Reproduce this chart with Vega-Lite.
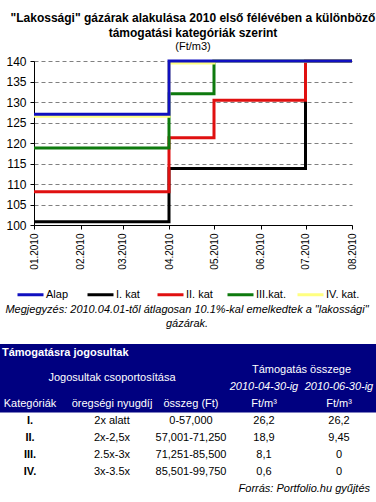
{
  "$schema": "https://vega.github.io/schema/vega-lite/v6.json",
  "padding": {"left": 0, "top": 12, "right": 0, "bottom": 0},
  "bounds": "flush",
  "spacing": 119,
  "config": {
    "font": "Liberation Sans",
    "view": {"stroke": null},
    "axis": {"labelFont": "Liberation Sans", "labelColor": "#000000", "domainColor": "#000000", "tickColor": "#000000"}
  },
  "resolve": {"scale": {"color": "independent"}, "legend": {"color": "independent"}},
  "vconcat": [
    {
      "width": 318,
      "height": 164,
      "title": {
        "text": ["\"Lakossági\" gázárak alakulása 2010 első félévében a különböző", "támogatási kategóriák szerint"],
        "subtitle": "(Ft/m3)",
        "font": "Liberation Sans",
        "fontSize": 12,
        "fontWeight": "bold",
        "lineHeight": 15,
        "subtitleFont": "Liberation Sans",
        "subtitleFontSize": 11,
        "subtitlePadding": 1,
        "offset": 2,
        "anchor": "middle",
        "color": "#000000",
        "subtitleColor": "#000000"
      },
      "data": {
        "values": [
          {"series": "I. kat", "date": "2010-01-01T00:00:00", "value": 100.8},
          {"series": "I. kat", "date": "2010-04-01T00:00:00", "value": 113.8},
          {"series": "I. kat", "date": "2010-07-01T00:00:00", "value": 140},
          {"series": "I. kat", "date": "2010-08-01T00:00:00", "value": 140},
          {"series": "II. kat", "date": "2010-01-01T00:00:00", "value": 108.1},
          {"series": "II. kat", "date": "2010-04-01T00:00:00", "value": 121.3},
          {"series": "II. kat", "date": "2010-05-01T00:00:00", "value": 130.4},
          {"series": "II. kat", "date": "2010-07-01T00:00:00", "value": 140},
          {"series": "II. kat", "date": "2010-08-01T00:00:00", "value": 140},
          {"series": "III.kat.", "date": "2010-01-01T00:00:00", "value": 118.8},
          {"series": "III.kat.", "date": "2010-04-01T00:00:00", "value": 132},
          {"series": "III.kat.", "date": "2010-05-01T00:00:00", "value": 140},
          {"series": "III.kat.", "date": "2010-08-01T00:00:00", "value": 140},
          {"series": "IV. kat.", "date": "2010-01-01T00:00:00", "value": 126.5},
          {"series": "IV. kat.", "date": "2010-04-01T00:00:00", "value": 139.5},
          {"series": "IV. kat.", "date": "2010-05-01T00:00:00", "value": 140},
          {"series": "IV. kat.", "date": "2010-08-01T00:00:00", "value": 140},
          {"series": "Alap", "date": "2010-01-01T00:00:00", "value": 127},
          {"series": "Alap", "date": "2010-04-01T00:00:00", "value": 140},
          {"series": "Alap", "date": "2010-08-01T00:00:00", "value": 140}
        ]
      },
      "mark": {"type": "line", "interpolate": "step-after", "strokeWidth": 3},
      "encoding": {
        "x": {
          "field": "date",
          "type": "temporal",
          "scale": {"domain": [{"year": 2010, "month": 1, "date": 1}, {"year": 2010, "month": 8, "date": 1}], "nice": false},
          "axis": {"title": null, "format": "%m.%Y", "labelAngle": 270, "tickCount": {"interval": "month", "step": 1}, "grid": false, "labelFontSize": 10, "tickSize": 4, "labelPadding": 4, "labelFlush": false, "labelOverlap": false}
        },
        "y": {
          "field": "value",
          "type": "quantitative",
          "scale": {"domain": [100, 140], "nice": false, "zero": false},
          "axis": {"title": null, "values": [100, 105, 110, 115, 120, 125, 130, 135, 140], "gridDash": [4, 3], "gridColor": "#808080", "gridOpacity": 1, "labelFontSize": 12, "tickSize": 4, "labelPadding": 4}
        },
        "color": {
          "field": "series",
          "type": "nominal",
          "scale": {"domain": ["Alap", "I. kat", "II. kat", "III.kat.", "IV. kat."], "range": ["#1010C0", "#000000", "#E01010", "#0E7A0E", "#FFFF80"]},
          "legend": {"orient": "none", "legendX": -18, "legendY": 219, "direction": "horizontal", "columns": 5, "title": null, "symbolType": "stroke", "symbolSize": 676, "symbolStrokeWidth": 3, "labelFontSize": 11, "labelFont": "Liberation Sans", "labelColor": "#000000", "labelOffset": 1, "columnPadding": 1, "gridAlign": "all", "padding": 0}
        }
      }
    },
    {
      "width": 306,
      "height": 154,
      "title": {
        "text": ["Megjegyzés: 2010.04.01-től átlagosan 10.1%-kal emelkedtek a \"lakossági\"", "gázárak."],
        "font": "Liberation Sans",
        "fontSize": 11,
        "fontStyle": "italic",
        "fontWeight": "normal",
        "lineHeight": 13.5,
        "offset": 15,
        "anchor": "middle",
        "color": "#000000"
      },
      "data": {
        "values": [
          {"part": "title", "col": 0, "row": 0, "t": "Támogatásra jogosultak"},
          {"part": "head", "col": 4.5, "row": 1, "t": "Támogatás összege"},
          {"part": "head", "col": 2, "row": 1.5, "t": "Jogosultak csoportosítása"},
          {"part": "dates", "col": 4, "row": 2, "t": "2010-04-30-ig"},
          {"part": "dates", "col": 5, "row": 2, "t": "2010-06-30-ig"},
          {"part": "head", "col": 1, "row": 3, "t": "Kategóriák"},
          {"part": "head", "col": 2, "row": 3, "t": "öregségi nyugdíj"},
          {"part": "head", "col": 3, "row": 3, "t": "összeg (Ft)"},
          {"part": "head", "col": 4, "row": 3, "t": "Ft/m³"},
          {"part": "head", "col": 5, "row": 3, "t": "Ft/m³"},
          {"part": "cat", "col": 1, "row": 4, "t": "I."},
          {"part": "body", "col": 2, "row": 4, "t": "2x alatt"},
          {"part": "body", "col": 3, "row": 4, "t": "0-57,000"},
          {"part": "body", "col": 4, "row": 4, "t": "26,2"},
          {"part": "body", "col": 5, "row": 4, "t": "26,2"},
          {"part": "cat", "col": 1, "row": 5, "t": "II."},
          {"part": "body", "col": 2, "row": 5, "t": "2x-2,5x"},
          {"part": "body", "col": 3, "row": 5, "t": "57,001-71,250"},
          {"part": "body", "col": 4, "row": 5, "t": "18,9"},
          {"part": "body", "col": 5, "row": 5, "t": "9,45"},
          {"part": "cat", "col": 1, "row": 6, "t": "III."},
          {"part": "body", "col": 2, "row": 6, "t": "2.5x-3x"},
          {"part": "body", "col": 3, "row": 6, "t": "71,251-85,500"},
          {"part": "body", "col": 4, "row": 6, "t": "8,1"},
          {"part": "body", "col": 5, "row": 6, "t": "0"},
          {"part": "cat", "col": 1, "row": 7, "t": "IV."},
          {"part": "body", "col": 2, "row": 7, "t": "3x-3.5x"},
          {"part": "body", "col": 3, "row": 7, "t": "85,501-99,750"},
          {"part": "body", "col": 4, "row": 7, "t": "0,6"},
          {"part": "body", "col": 5, "row": 7, "t": "0"},
          {"part": "source", "col": 6, "row": 8, "t": "Forrás: Portfolio.hu gyűjtés"}
        ]
      },
      "layer": [
        {
          "transform": [
            {"joinaggregate": [{"op": "min", "field": "col", "as": "c0"}, {"op": "max", "field": "col", "as": "c1"}]},
            {"filter": "datum.part === 'title' || datum.part === 'head' || datum.part === 'dates'"}
          ],
          "mark": {"type": "rect", "fill": "#000080", "yOffset": -8.6, "y2Offset": 8.6},
          "encoding": {
            "x": {"aggregate": "min", "field": "c0", "type": "quantitative", "scale": {"domain": [0, 1, 2, 3, 4, 5, 6], "range": [-34, -4, 78, 157, 230, 305, 342]}, "axis": null},
            "x2": {"aggregate": "max", "field": "c1"},
            "y": {"aggregate": "min", "field": "row", "type": "quantitative", "scale": {"domain": [-0.5, 8.5], "reverse": true, "nice": false, "zero": false}, "axis": null},
            "y2": {"aggregate": "max", "field": "row"}
          }
        },
        {
          "transform": [{"filter": "datum.part === 'title'"}],
          "mark": {"type": "text", "align": "left", "baseline": "middle", "dx": 2, "fontSize": 11, "fontWeight": "bold", "color": "#FFFFFF"},
          "encoding": {
            "x": {"field": "col", "type": "quantitative"},
            "y": {"field": "row", "type": "quantitative"},
            "text": {"field": "t"}
          }
        },
        {
          "transform": [{"filter": "datum.part === 'head'"}],
          "mark": {"type": "text", "align": "center", "baseline": "middle", "fontSize": 11, "color": "#FFFFFF"},
          "encoding": {
            "x": {"field": "col", "type": "quantitative"},
            "y": {"field": "row", "type": "quantitative"},
            "text": {"field": "t"}
          }
        },
        {
          "transform": [{"filter": "datum.part === 'dates'"}],
          "mark": {"type": "text", "align": "center", "baseline": "middle", "fontSize": 11, "fontStyle": "italic", "color": "#FFFFFF"},
          "encoding": {
            "x": {"field": "col", "type": "quantitative"},
            "y": {"field": "row", "type": "quantitative"},
            "text": {"field": "t"}
          }
        },
        {
          "transform": [{"filter": "datum.part === 'cat'"}],
          "mark": {"type": "text", "align": "center", "baseline": "middle", "fontSize": 11, "fontWeight": "bold", "color": "#000000"},
          "encoding": {
            "x": {"field": "col", "type": "quantitative"},
            "y": {"field": "row", "type": "quantitative"},
            "text": {"field": "t"}
          }
        },
        {
          "transform": [{"filter": "datum.part === 'body'"}],
          "mark": {"type": "text", "align": "center", "baseline": "middle", "fontSize": 11, "color": "#000000"},
          "encoding": {
            "x": {"field": "col", "type": "quantitative"},
            "y": {"field": "row", "type": "quantitative"},
            "text": {"field": "t"}
          }
        },
        {
          "transform": [{"filter": "datum.part === 'source'"}],
          "mark": {"type": "text", "align": "right", "baseline": "middle", "dx": -6, "fontSize": 11, "fontStyle": "italic", "color": "#000000"},
          "encoding": {
            "x": {"field": "col", "type": "quantitative"},
            "y": {"field": "row", "type": "quantitative"},
            "text": {"field": "t"}
          }
        }
      ]
    }
  ]
}
